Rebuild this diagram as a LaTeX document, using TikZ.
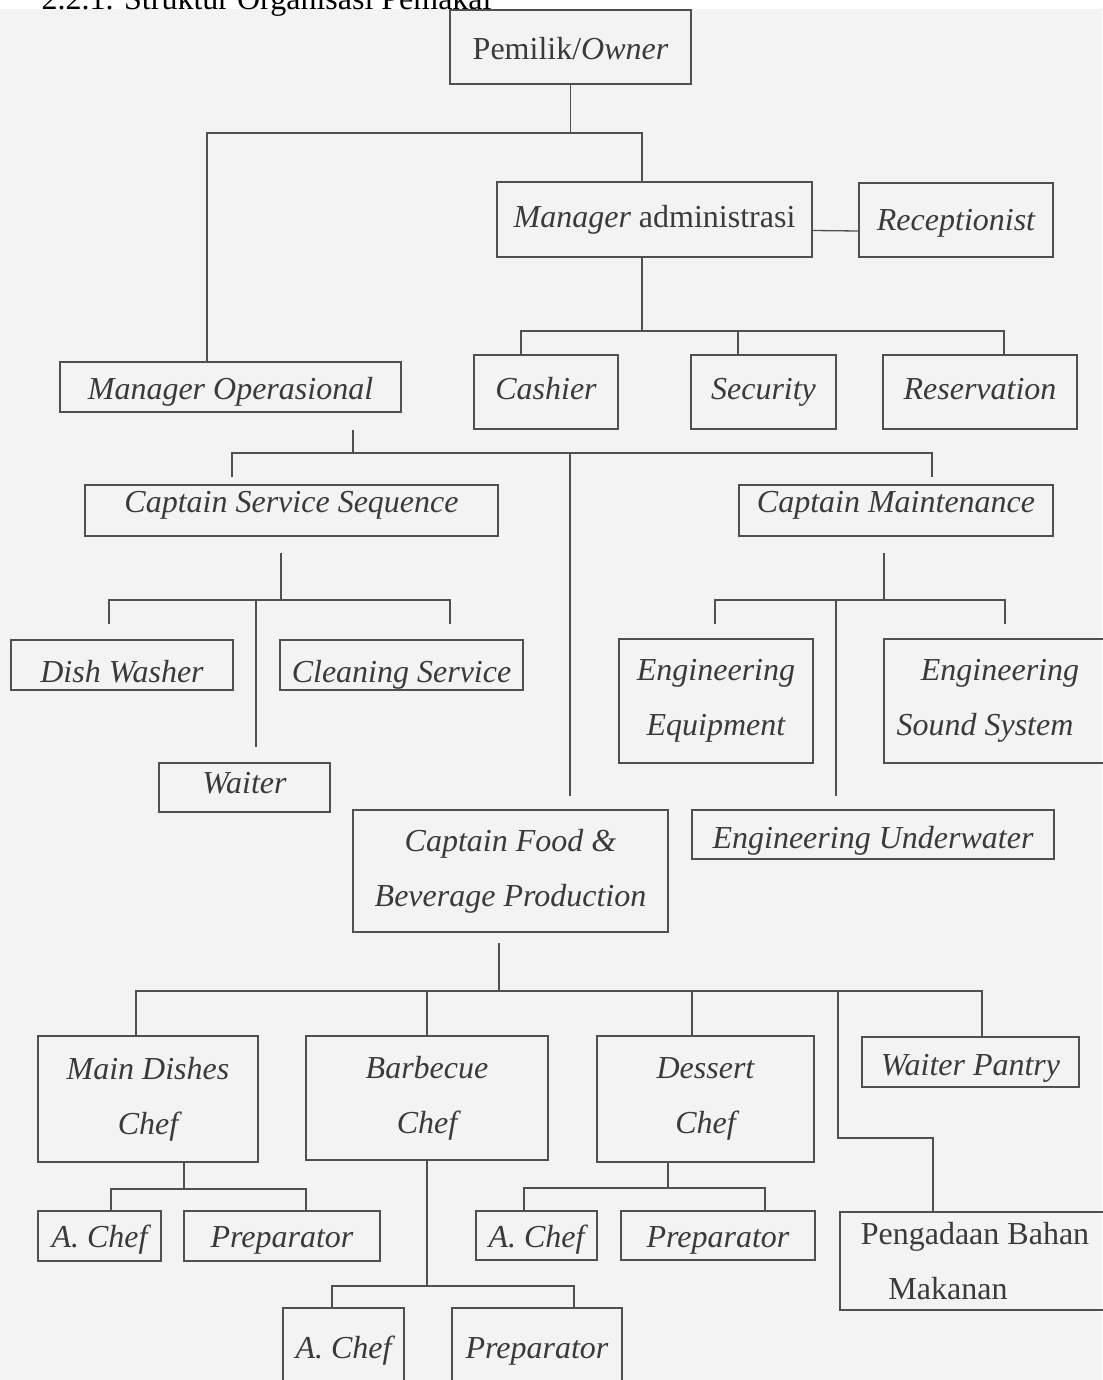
\documentclass[tikz,border=0pt]{standalone}
\usepackage{fontspec}
\setmainfont{Liberation Serif}
\definecolor{ink}{HTML}{3A3A3A}
\definecolor{rule}{HTML}{505050}
\definecolor{paper}{HTML}{F3F3F3}
\tikzset{
  box/.style={draw=rule, line width=1.5pt, text=ink, inner sep=0pt, align=center,
    font=\fontsize{32}{55}\selectfont\itshape},
  boxsize/.style 2 args={minimum width=#1pt, minimum height=#2pt},
  bl/.style={text height=20pt+#1pt, text depth=20pt-#1pt},
  link/.style={draw=rule, line width=1.3pt},
}
\begin{document}
\begin{tikzpicture}[x=1pt, y=-1pt]

   \useasboundingbox (0,0) rectangle (1102,1380);
   \fill[white] (0,0) rectangle (1102,9);
   \fill[paper] (0,9) rectangle (1102,1380);

   \node[anchor=base west, font=\fontsize{32}{38}\selectfont] at (38, 10) (title) {2.2.1. Struktur Organisasi Pemakai};

%Top level
   \node[box, bl=13, boxsize={241}{74}] at (570.5, 47)    (own)  {{\upshape Pemilik/}Owner};
   \node[box, bl=8.5, boxsize={315}{75}] at (654.5, 219.5) (madm) {Manager {\upshape administrasi}};
   \node[box, bl=10, boxsize={194}{74}] at (956, 220)     (rec)  {Receptionist};

   \node[box, bl=12, boxsize={341}{50}] at (230.5, 387)   (mop)  {Manager Operasional};
   \node[box, bl=7, boxsize={144}{74}] at (546, 392)      (cash) {Cashier};
   \node[box, bl=7, boxsize={145}{74}] at (763.5, 392)    (sec)  {Security};
   \node[box, bl=7, boxsize={194}{74}] at (980, 392)      (res)  {Reservation};

%Captains
   \node[box, bl=1.5, boxsize={413}{51}] at (291.5, 510.5) (css) {Captain Service Sequence};
   \node[box, bl=1.5, boxsize={314}{51}] at (896, 510.5)   (cm)  {Captain Maintenance};

   \node[box, bl=17, boxsize={222}{50}] at (122, 665)     (dw)  {Dish Washer};
   \node[box, bl=17, boxsize={243}{50}] at (401.5, 665)   (cs)  {Cleaning Service};
   \node[box, bl=5.5, boxsize={171}{49}] at (244.5, 787.5) (wt) {Waiter};

   \node[box, boxsize={194}{124}] at (716, 701)   (ee)  {Engineering\\Equipment};
   \node[box, boxsize={224}{124}] at (996, 701)   (ess) {\hspace*{8pt}Engineering\\\hspace*{-22pt}Sound System};
   \node[box, bl=13.5, boxsize={362}{49}] at (873, 834.5) (eu) {Engineering Underwater};

   \node[box, boxsize={315}{122}] at (510.5, 871) (cfb) {Captain Food \&\\Beverage Production};

%Kitchen
   \node[box, boxsize={220}{126}] at (148, 1099)   (mdc) {Main Dishes\\Chef};
   \node[box, boxsize={242}{124}] at (427, 1098)   (bbc) {Barbecue\\Chef};
   \node[box, boxsize={217}{126}] at (705.5, 1099) (dsc) {Dessert\\Chef};
   \node[box, bl=13, boxsize={217}{50}] at (970.5, 1062) (wp) {Waiter Pantry};

   \node[box, bl=11, boxsize={123}{50}] at (99.5, 1236)    (ac1) {A. Chef};
   \node[box, bl=11, boxsize={196}{50}] at (282, 1236)     (pr1) {Preparator};
   \node[box, bl=11.5, boxsize={121}{49}] at (536.5, 1235.5) (ac2) {A. Chef};
   \node[box, bl=11.5, boxsize={194}{49}] at (718, 1235.5) (pr2) {Preparator};
   \node[box, boxsize={270}{98}] at (975, 1261) (pba) {\upshape Pengadaan Bahan\\\hspace*{-54pt}\upshape Makanan};
   \node[box, bl=10, boxsize={121}{80}] at (343.5, 1348)   (ac3) {A. Chef};
   \node[box, bl=10, boxsize={170}{80}] at (537, 1348)     (pr3) {Preparator};

%Bus lines
   \coordinate (b1L) at (207, 133);  \coordinate (b1R) at (642, 133);
   \coordinate (b2L) at (521, 331);  \coordinate (b2S) at (738, 331);
   \coordinate (b2M) at (642, 331);  \coordinate (b2R) at (1004, 331);
   \coordinate (b3L) at (232, 453);  \coordinate (b3M) at (353, 453);
   \coordinate (b3C) at (570, 453);  \coordinate (b3R) at (932, 453);
   \coordinate (b4L) at (109, 600);  \coordinate (b4W) at (256, 600);
   \coordinate (b4M) at (281, 600);  \coordinate (b4R) at (450, 600);
   \coordinate (b5L) at (715, 600);  \coordinate (b5U) at (836, 600);
   \coordinate (b5M) at (884, 600);  \coordinate (b5R) at (1005, 600);
   \coordinate (b6L) at (136, 991);  \coordinate (b6B) at (427, 991);
   \coordinate (b6M) at (499, 991);  \coordinate (b6D) at (692, 991);
   \coordinate (b6P) at (838, 991);  \coordinate (b6R) at (982, 991);
   \coordinate (b6K) at (838, 1138); \coordinate (b6Q) at (933, 1138);
   \coordinate (b7L) at (111, 1189); \coordinate (b7M) at (184, 1189); \coordinate (b7R) at (306, 1189);
   \coordinate (b8L) at (332, 1286); \coordinate (b8M) at (427, 1286); \coordinate (b8R) at (574, 1286);
   \coordinate (b9L) at (524, 1188); \coordinate (b9M) at (668, 1188); \coordinate (b9R) at (765, 1188);

%Connectors
   \draw [link] (own.south)to(own.south |- b1L);
   \draw [link] (mop.north -| b1L) -- (b1L) -- (b1R) -- (madm.north -| b1R);
   \draw [link] ([yshift=-11pt]madm.east)to([yshift=-11pt]rec.west);

   \draw [link] (b2M |- madm.south)to(b2M);
   \draw [link] (cash.north -| b2L) -- (b2L) -- (b2R) -- (res.north -| b2R);
   \draw [link] (b2S)to(b2S |- sec.north);

   \draw [link, shorten <=17pt] (b3M |- mop.south)to(b3M);
   \draw [link, shorten <=7pt, shorten >=7pt] (css.north -| b3L) -- (b3L) -- (b3R) -- (cm.north -| b3R);
   \draw [link, shorten >=13pt] (b3C)to(b3C |- cfb.north);

   \draw [link, shorten <=16pt] (b4M |- css.south)to(b4M);
   \draw [link, shorten <=15pt, shorten >=15pt] (dw.north -| b4L) -- (b4L) -- (b4R) -- (cs.north -| b4R);
   \draw [link, shorten >=15pt] (b4W)to(b4W |- wt.north);

   \draw [link, shorten <=16pt] (b5M |- cm.south)to(b5M);
   \draw [link, shorten <=14pt, shorten >=14pt] (ee.north -| b5L) -- (b5L) -- (b5R) -- (ess.north -| b5R);
   \draw [link, shorten >=13pt] (b5U)to(b5U |- eu.north);

   \draw [link, shorten <=10pt] (b6M |- cfb.south)to(b6M);
   \draw [link] (mdc.north -| b6L) -- (b6L) -- (b6R) -- (wp.north -| b6R);
   \draw [link] (b6B)to(b6B |- bbc.north);
   \draw [link] (b6D)to(b6D |- dsc.north);
   \draw [link] (b6P) -- (b6K) -- (b6Q) -- (b6Q |- pba.north);

   \draw [link] (b7M |- mdc.south)to(b7M);
   \draw [link] (ac1.north -| b7L) -- (b7L) -- (b7R) -- (pr1.north -| b7R);
   \draw [link] (b8M |- bbc.south)to(b8M);
   \draw [link] (ac3.north -| b8L) -- (b8L) -- (b8R) -- (pr3.north -| b8R);
   \draw [link] (b9M |- dsc.south)to(b9M);
   \draw [link] (ac2.north -| b9L) -- (b9L) -- (b9R) -- (pr2.north -| b9R);

  \end{tikzpicture}
\end{document}
